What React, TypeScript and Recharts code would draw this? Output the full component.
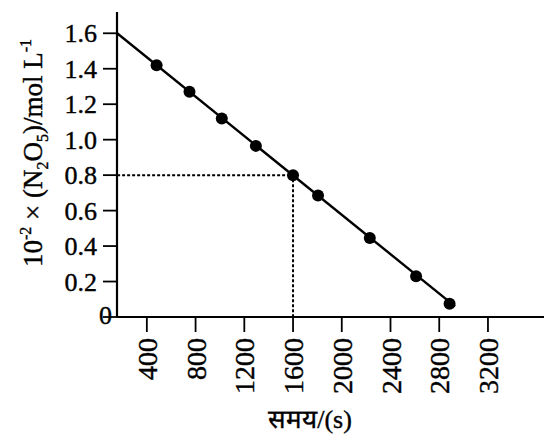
import React from "react";
import { ComposedChart, Line, Scatter, XAxis, YAxis } from "recharts";

// time (s) and concentration (10^-2 mol/L)
const times = [480, 750, 1015, 1295, 1600, 1805, 2230, 2610, 2885];
const conc = [1.42, 1.27, 1.12, 0.965, 0.8, 0.685, 0.445, 0.23, 0.075];

// fitted straight line ends
const fitTimes = [156, 2930];
const fitConc = [1.6, 0.06];

// dotted guide through (1600, 0.8)
const guideTimes = [156, 1600, 1600];
const guideConc = [0.8, 0.8, 0];

const xTicks = [400, 800, 1200, 1600, 2000, 2400, 2800, 3200];
const yTicks = [0, 0.2, 0.4, 0.6, 0.8, 1.0, 1.2, 1.4, 1.6];

const points = times.map((t, i) => ({ t, c: conc[i] }));
const fit = fitTimes.map((t, i) => ({ t, c: fitConc[i] }));
const guide = guideTimes.map((t, i) => ({ t, c: guideConc[i] }));

const FONT = "'Liberation Serif', 'Times New Roman', serif";
const HEAVY = { stroke: "#000", strokeWidth: 0.4 };

const XTick = (props: any) => {
  const { x, y, payload } = props;
  return (
    <text
      x={x}
      y={y}
      transform={`rotate(-90 ${x} ${y})`}
      textAnchor="end"
      dy="0.36em"
      fontSize={28}
      fontFamily={FONT}
      fill="#000"
      {...HEAVY}
    >
      {payload.value}
    </text>
  );
};

const YTick = (props: any) => {
  const { x, y, payload } = props;
  const v = payload.value;
  return (
    <text
      x={v === 0 ? x + 15 : x}
      y={v === 0 ? y - 2 : y}
      textAnchor="end"
      dy="0.35em"
      fontSize={26}
      fontFamily={FONT}
      fill="#000"
      {...HEAVY}
    >
      {v === 0 ? "0" : v.toFixed(1)}
    </text>
  );
};

const YTitle = () => (
  <text
    x={0}
    y={0}
    transform="translate(42,153) rotate(-90)"
    textAnchor="middle"
    fontSize={27}
    fontFamily={FONT}
    fill="#000"
    {...HEAVY}
  >
    <tspan>10</tspan>
    <tspan dy={-11} fontSize={16}>-2</tspan>
    <tspan dy={11}> × (N</tspan>
    <tspan dy={6} fontSize={16}>2</tspan>
    <tspan dy={-6}>O</tspan>
    <tspan dy={6} fontSize={16}>5</tspan>
    <tspan dy={-6}>)/mol L</tspan>
    <tspan dy={-11} fontSize={16}>-1</tspan>
  </text>
);

const XTitle = () => (
  <text
    x={310}
    y={428}
    textAnchor="middle"
    fontSize={26}
    fontFamily={FONT}
    fill="#000"
    {...HEAVY}
  >
    समय/(s)
  </text>
);

export default function App() {
  return (
    <div style={{ position: "absolute", left: 0, top: 0, background: "#fff" }}>
      <ComposedChart
        width={544}
        height={439}
        margin={{ top: 12, right: 0, bottom: 0, left: 0 }}
      >
        <XAxis
          dataKey="t"
          type="number"
          domain={[155, 3660]}
          ticks={xTicks}
          allowDataOverflow
          height={122}
          tickSize={15}
          tickMargin={6}
          tick={<XTick />}
          axisLine={{ stroke: "#000", strokeWidth: 2.2 }}
          tickLine={{ stroke: "#000", strokeWidth: 1.8 }}
          label={<XTitle />}
        />
        <YAxis
          dataKey="c"
          type="number"
          domain={[0, 1.72]}
          ticks={yTicks}
          allowDataOverflow
          width={117}
          tickSize={14}
          tickMargin={6}
          tick={<YTick />}
          axisLine={{ stroke: "#000", strokeWidth: 2.2 }}
          tickLine={{ stroke: "#000", strokeWidth: 1.8 }}
          label={<YTitle />}
        />
        <Line
          data={guide}
          dataKey="c"
          stroke="#000"
          strokeWidth={2}
          strokeDasharray="3 2"
          dot={false}
          activeDot={false}
          isAnimationActive={false}
          type="linear"
        />
        <Line
          data={fit}
          dataKey="c"
          stroke="#000"
          strokeWidth={2.4}
          dot={false}
          activeDot={false}
          isAnimationActive={false}
          type="linear"
        />
        <Scatter
          data={points}
          dataKey="c"
          fill="#000"
          shape={(p: any) => <circle cx={p.cx} cy={p.cy} r={6} fill="#000" />}
          isAnimationActive={false}
        />
      </ComposedChart>
    </div>
  );
}
